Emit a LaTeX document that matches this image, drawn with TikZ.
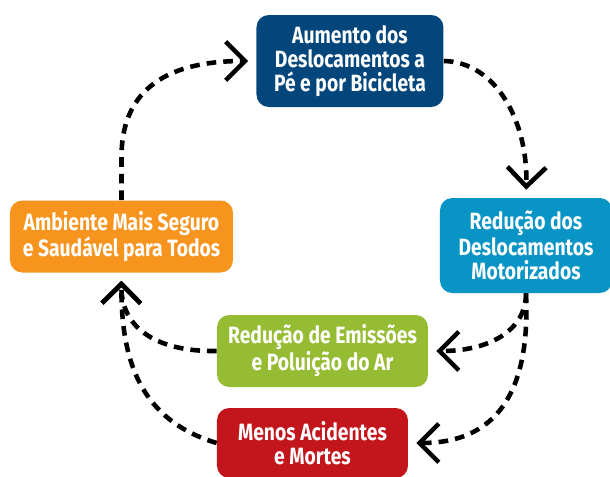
\documentclass[tikz,border=0pt]{standalone}
\usepackage{fontspec}
\setmainfont{Fira Sans}[FakeStretch=0.82]
\usepackage{tikz}
\usetikzlibrary{arrows.meta}

\definecolor{walkblue}{HTML}{03467C}
\definecolor{carblue}{HTML}{0895C5}
\definecolor{safeorange}{HTML}{F7941D}
\definecolor{airgreen}{HTML}{96BC33}
\definecolor{crashred}{HTML}{C3161C}

\begin{document}
\begin{tikzpicture}[
    x=0.02cm, y=-0.02cm,
    % Styles
    box/.style={rectangle, rounded corners=7pt, inner sep=0pt, text=white, align=center, font=\bfseries\fontsize{13.4}{13.6}\selectfont},
    flow/.style={-{Straight Barb[length=11pt, width=22pt, line width=2.6pt]}, line width=2.6pt, dash pattern=on 5.5pt off 4pt, shorten >=4.5pt},
]
\useasboundingbox (0,0) rectangle (610,477);

% ===== BOXES =====
\node[box, fill=walkblue, minimum width=187*0.02cm, minimum height=92*0.02cm] (aumento) at (350,61) {Aumento dos\\Deslocamentos a\\Pé e por Bicicleta};
\node[box, fill=carblue, minimum width=172*0.02cm, minimum height=95*0.02cm] (reducao) at (526,245.5) {Redução dos\\Deslocamentos\\Motorizados};
\node[box, fill=safeorange, minimum width=223*0.02cm, minimum height=72*0.02cm] (ambiente) at (121.5,236.5) {Ambiente Mais Seguro\\e Saudável para Todos};
\node[box, fill=airgreen, minimum width=211*0.02cm, minimum height=72*0.02cm] (emissoes) at (322.5,351) {Redução de Emissões\\e Poluição do Ar};
\node[box, fill=crashred, minimum width=191*0.02cm, minimum height=70*0.02cm] (acidentes) at (312.5,443) {Menos Acidentes\\e Mortes};

% ===== ARROWS =====
% Cycle top
\draw[flow] (ambiente.north) -- ++(0,-42) .. controls (121,95) and (160,61) .. (aumento.west);
\draw[flow] (aumento.east) .. controls (495,62) and (528,120) .. (reducao.north);

% Motorized reduction to effects
\draw[flow] (reducao.south) .. controls (526,330) and (490,351) .. (emissoes.east);
\draw[flow] (reducao.south) .. controls (530,380) and (505,443) .. (acidentes.east);

% Effects to environment
\draw[flow] (emissoes.west) .. controls (160,352) and (121,330) .. (ambiente.south);
\draw[flow] (acidentes.west) .. controls (140,420) and (121,360) .. (ambiente.south);

\end{tikzpicture}
\end{document}
